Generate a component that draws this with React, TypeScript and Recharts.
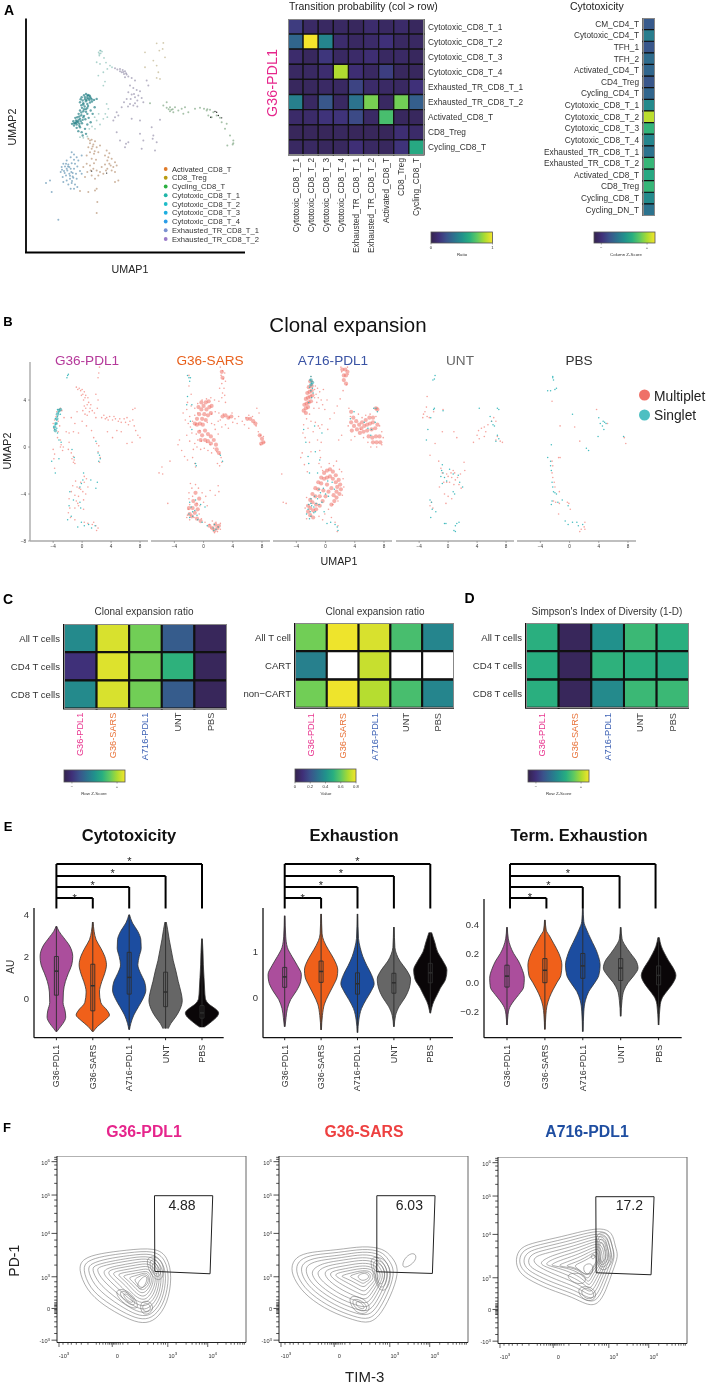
import React from 'react';
import { Area, Bar, BarChart, Cell, ComposedChart, ReferenceLine, Scatter, ScatterChart, XAxis, YAxis } from 'recharts';

const FONT = '"Liberation Sans", Arial, sans-serif';
type P = [number, number];

// ---------- colour scale ----------
const VIRIDIS = ['#34234d', '#3f2f78', '#3b528b', '#2c728e', '#21918c', '#28ae80', '#5ec962', '#addc30', '#f4e52c'];
function hex(c: string) { return [1, 3, 5].map((i) => parseInt(c.slice(i, i + 2), 16)); }
function viridis(t: number) {
  const p = Math.max(0, Math.min(0.9999, t)) * (VIRIDIS.length - 1);
  const i = Math.floor(p);
  const a = hex(VIRIDIS[i]); const b = hex(VIRIDIS[i + 1]);
  return `rgb(${a.map((v, k) => Math.round(v + (b[k] - v) * (p - i))).join(',')})`;
}

// ---------- panel A data ----------
const umapTeal: P[] = [[245,290],[252,284],[258,280],[264,283],[270,288],[262,292],[255,296],[248,300],[268,298],[275,296],[282,298],[290,295],[258,302],[250,308],[244,314],[262,310],[270,306],[240,305],[246,322],[254,318],[262,322],[240,330],[250,332],[258,334],[236,340],[244,344],[252,346],[262,340],[232,350],[240,355],[248,358],[228,360],[234,365],[226,368],[220,362],[230,372],[238,370],[246,368],[222,375],[230,382],[240,380],[256,356],[266,352],[235,392],[245,395],[255,385],[262,372],[272,365],[248,405],[258,400],[268,285],[276,303],[264,316],[272,330],[278,340],[284,320],[226,352],[216,370],[255,290],[262,286],[266,294],[232,362],[228,366],[236,358],[250,312],[258,326],[242,296],[260,298],[272,292],[252,326],[244,336],[238,348],[222,368],[242,362],[250,350],[238,376]];
const umapTealLight: P[] = [[300,150],[302,158],[296,155],[306,153],[298,165],[312,172],[290,185],[300,190],[318,186],[330,195],[336,200],[322,205],[310,215],[295,225],[315,243],[310,255],[320,310],[325,325],[316,340],[322,350],[310,355],[290,360],[300,372],[285,385],[296,340],[268,385],[276,378],[284,350],[240,410],[250,412],[262,408],[302,150],[298,160]];
const umapBlue: P[] = [[190,490],[200,480],[212,470],[222,462],[215,455],[230,470],[245,465],[185,500],[195,498],[205,492],[215,488],[225,490],[235,480],[182,515],[192,512],[202,510],[212,505],[222,505],[232,498],[188,530],[198,525],[208,520],[218,518],[228,520],[240,512],[190,545],[200,540],[210,535],[220,532],[230,535],[205,552],[215,548],[225,552],[212,565],[222,565],[232,560],[150,540],[138,548],[155,575],[245,520],[175,658],[208,500],[214,515],[218,528],[200,505],[194,518],[210,526],[204,498],[216,542],[222,478],[186,508],[198,490]];
const umapBrown: P[] = [[265,415],[275,418],[285,422],[270,428],[280,432],[265,440],[275,445],[290,440],[300,435],[270,455],[282,460],[295,455],[260,465],[275,475],[288,478],[320,450],[328,458],[315,465],[325,470],[335,475],[345,485],[350,495],[340,500],[328,490],[315,492],[305,500],[322,505],[335,510],[345,515],[260,490],[250,500],[270,495],[280,505],[290,510],[262,515],[275,525],[285,535],[295,525],[310,520],[255,530],[345,545],[355,540],[290,565],[285,570],[292,605],[290,638],[265,575],[240,572],[270,420],[278,438],[284,452],[322,480],[332,495],[318,510],[300,515],[272,510],[282,488]];
const umapPurple: P[] = [[345,203],[352,207],[360,205],[368,208],[375,212],[365,215],[372,220],[380,222],[385,228],[375,230],[395,232],[405,240],[390,255],[400,262],[410,268],[420,272],[385,275],[395,282],[405,290],[415,285],[425,292],[380,295],[372,305],[390,310],[400,315],[412,318],[430,305],[365,320],[350,335],[345,350],[355,345],[440,240],[445,255],[350,395],[360,420],[378,430],[385,425],[375,440],[420,400],[430,420],[455,380],[460,405],[458,415],[465,450],[470,425],[480,358],[425,445],[340,360],[395,355],[420,360],[370,214],[378,218],[360,212],[402,280],[392,295],[412,300],[384,318],[405,308]];
const umapGreen: P[] = [[490,315],[500,322],[510,320],[518,326],[510,332],[520,335],[525,320],[500,305],[535,330],[545,325],[550,340],[555,320],[565,335],[585,325],[600,322],[612,325],[620,330],[630,328],[640,335],[625,345],[635,350],[650,345],[660,352],[665,365],[675,385],[690,405],[700,420],[698,432],[682,435],[680,370],[450,308],[514,328],[506,326],[622,326],[700,428]];
const umapKhaki: P[] = [[470,128],[490,127],[488,145],[478,150],[495,170],[435,155],[470,195],[475,215],[470,232],[480,235],[460,180],[435,200]];
const umapBlack: P[] = [[645,333],[650,335],[655,345],[632,350],[665,352],[320,518],[275,512]];
const legendNames = ['Activated_CD8_T', 'CD8_Treg', 'Cycling_CD8_T', 'Cytotoxic_CD8_T_1', 'Cytotoxic_CD8_T_2', 'Cytotoxic_CD8_T_3', 'Cytotoxic_CD8_T_4', 'Exhausted_TR_CD8_T_1', 'Exhausted_TR_CD8_T_2'];
const legendColors = ['#e07b2a', '#b89b10', '#2bb040', '#1fb5a8', '#1fbcc8', '#1caee0', '#2a9de8', '#7a90d0', '#9a7ac8'];

const tpRows = ['Cytotoxic_CD8_T_1', 'Cytotoxic_CD8_T_2', 'Cytotoxic_CD8_T_3', 'Cytotoxic_CD8_T_4', 'Exhausted_TR_CD8_T_1', 'Exhausted_TR_CD8_T_2', 'Activated_CD8_T', 'CD8_Treg', 'Cycling_CD8_T'];
const tpValues = [
  [0.17, 0.07, 0.06, 0.06, 0.05, 0.09, 0.06, 0.08, 0.05],
  [0.33, 1, 0.45, 0.09, 0.06, 0.08, 0.13, 0.06, 0.06],
  [0.09, 0.05, 0.15, 0.06, 0.08, 0.11, 0.06, 0.07, 0.05],
  [0.06, 0.06, 0.1, 0.88, 0.11, 0.06, 0.18, 0.05, 0.05],
  [0.05, 0.05, 0.07, 0.06, 0.2, 0.08, 0.07, 0.06, 0.13],
  [0.43, 0.06, 0.27, 0.06, 0.38, 0.79, 0.06, 0.78, 0.3],
  [0.08, 0.08, 0.14, 0.14, 0.22, 0.07, 0.7, 0.05, 0.05],
  [0.04, 0.04, 0.04, 0.05, 0.04, 0.04, 0.04, 0.11, 0.08],
  [0.06, 0.06, 0.05, 0.05, 0.12, 0.06, 0.05, 0.14, 0.6],
];
const cytoRows = ['CM_CD4_T', 'Cytotoxic_CD4_T', 'TFH_1', 'TFH_2', 'Activated_CD4_T', 'CD4_Treg', 'Cycling_CD4_T', 'Cytotoxic_CD8_T_1', 'Cytotoxic_CD8_T_2', 'Cytotoxic_CD8_T_3', 'Cytotoxic_CD8_T_4', 'Exhausted_TR_CD8_T_1', 'Exhausted_TR_CD8_T_2', 'Activated_CD8_T', 'CD8_Treg', 'Cycling_CD8_T', 'Cycling_DN_T'];
const cytoValues = [[0.28], [0.42], [0.27], [0.35], [0.33], [0.27], [0.33], [0.47], [0.9], [0.65], [0.45], [0.38], [0.66], [0.6], [0.66], [0.47], [0.38]];

// ---------- panel B data ----------
const pdl1Multi: P[] = [[-0.8,5.1],[-0.4,5],[0,4.9],[0.3,4.7],[0.1,4.5],[-0.2,4.8],[0.5,4.4],[0.8,4.2],[0.2,4],[0.9,3.8],[1.2,3.6],[0.5,3.3],[1,3],[0.7,2.7],[1.4,3.1],[1.7,2.9],[0.3,3.5],[2.3,6.3],[2.4,6.8],[2.2,5.9],[1.9,4.5],[2.2,4],[2.1,3.3],[-1.5,2.5],[-0.7,3],[-1,2],[0,2.2],[0.6,1.8],[1.3,1.4],[1.6,0.8],[2,0.3],[2.3,0.1],[3,2.7],[3.4,2.5],[3.8,2.6],[4.2,2.3],[4.6,2.4],[5,2.2],[5.4,2.1],[5.8,2.4],[6.2,2.5],[6.6,2.2],[7,2.3],[7.2,1.8],[7.4,1.4],[7.7,1],[8,0.8],[6.9,0.4],[6.2,0.3],[5.4,1.3],[4.8,1.4],[3.5,1.3],[4.2,0.8],[7,3.2],[7.3,3.3],[-4,2],[-3.9,1.6],[-3.8,2.3],[-3.6,2.6],[-3.5,3],[-3.2,3.2],[-3,3.3],[-2.8,3.1],[-3.3,2.2],[-3.1,1.8],[-3.3,1.3],[-3.4,0.8],[-3,0.6],[-2.9,0.2],[-2.6,0],[-1.9,-0.2],[-1.5,-0.5],[-1.2,-0.8],[-1.1,-1.1],[-1,-1.4],[-3.8,-0.6],[-3.9,-1],[-3.8,-1.8],[-4,-0.2],[-1.8,0.4],[2.2,-0.4],[2.5,-0.9],[2.4,-1.3],[0.3,-2.5],[0.6,-2.7],[0.3,-3],[-0.2,-3],[-0.4,-3.5],[-0.9,-2.9],[-1.3,-3.3],[-1.5,-3.8],[-1,-4.1],[-0.5,-4.2],[-0.8,-4.6],[0.2,-4.5],[0.5,-4],[0.8,-3.4],[-1.8,-4.4],[-1.7,-5.2],[-1.9,-5.6],[-1,-5.2],[-0.5,-5],[0.2,-5.3],[-1.6,-6],[-1,-6.2],[0.3,-6.4],[0.8,-6.5],[1.4,-6.6],[1.9,-6.7],[2.2,-6.9],[2,-7.1],[1.6,-6.4],[-0.6,4.9],[-0.1,4.4],[0.4,4.2],[0.7,3.6],[1.1,3.3],[0.1,3.1],[0.4,2.8],[1.9,2.5],[2.7,2.5],[3.2,2.4],[3.6,2.3],[4.4,2.6],[5.2,2.4],[6,2.1],[6.4,1.9],[-2.5,2.5],[-2.2,1.3],[-1.8,1.2],[-1.2,1.3],[-0.5,1.2],[-3,0],[-2.7,-0.3],[-1.4,-1],[-1.2,-1.3],[-0.2,-3.6],[-0.7,-3.4],[-0.6,-4.8],[0.1,-3.8]];
const pdl1Single: P[] = [[-2,6.1],[-2.1,5.9],[-1.9,6.2],[-3.9,1.7],[-3.8,1.5],[-3.7,1.9],[-3.6,2],[-3.5,2.3],[-3.4,2.6],[-3.3,2.9],[-3.2,3],[-3,2.8],[-3.5,1.6],[-3.4,1.2],[-3.7,2.4],[-3.4,3.2],[-3.2,0.6],[-2.9,0.4],[-1.4,-0.2],[-1.1,-0.9],[2.2,-0.5],[2.4,-0.7],[2.5,-1],[2.3,-1.2],[1.9,0.5],[-4.2,-1.2],[-3.7,-2.2],[-3.2,-1],[0.1,-2.8],[-0.1,-3.1],[0.2,-2.2],[-0.3,-3.4],[1.2,-2.8],[1.9,-3.5],[2.1,-3],[-1.7,-3.8],[-1.2,-4.5],[-0.3,-4.7],[-0.2,-5.2],[-2,-6.2],[-1.5,-5.9],[-0.1,-6.4],[0.3,-6.7],[0.9,-6.6],[1.3,-6.9],[1.8,-6.7],[-0.6,-6.8],[-1.8,-5]];
const pdl1SingleBlob: P[] = [[-3.8,1.7],[-3.7,1.4],[-3.6,2],[-3.5,2.4],[-3.4,2.8],[-3.2,3.1],[-3,3.2]];

const sarsBlob: P[] = [[-1.2,2],[-0.9,2.4],[-0.6,2.8],[-0.3,3.2],[0,3.5],[0.3,3.8],[0.7,3.9],[-0.9,1.9],[-0.5,2],[-0.2,2.4],[0.1,2.8],[0.4,3.2],[0.8,3.4],[1.1,3.5],[-0.1,1.9],[0.3,2.3],[0.6,2.7],[1,2.9],[-0.7,3.4],[-0.3,3.8],[-0.6,1.3],[-0.2,1],[0.2,1.4],[0.6,1.1],[0.2,0.6],[0.6,0.5],[1,0.9],[1.4,0.6],[1.7,0.2],[1,0.3],[-0.4,0.6],[1.8,-0.2],[2.1,-0.5],[2.6,2.6],[3,2.7],[3.4,2.5],[3.8,2.6],[6,2.4],[6.4,2.4],[6.8,2.2],[7.1,2],[7.7,1],[8,0.7],[8.2,0.4],[7.9,0.3],[-1.9,-5.7],[-2,-5.2],[-1.6,-5.9],[-1.5,-5.2],[-1.2,-5.6],[-1.4,-4.6],[-1,-4.9],[-0.8,-5.3],[-1.1,-3.9],[-0.6,-4.4],[-0.9,-6.1],[-0.4,-6.3],[0.8,-6.7],[1.2,-6.9],[1.6,-6.6],[1.9,-6.9],[1.5,-7.1],[2.1,-6.7],[2.5,6.4],[2.6,5.9]];
const sarsMulti: P[] = [[-2,6.1],[2.3,6.8],[2.6,6.5],[2.4,6.1],[2.7,5.8],[2.5,5.4],[2.8,5],[2.6,4.6],[2.5,4.2],[3,3.8],[2.1,3.9],[1.5,4],[1,4.2],[0.4,4.1],[-0.2,4],[-0.8,3.7],[-1.2,3.3],[-1.7,3.5],[-2.3,3.2],[-2.8,2.9],[-1.9,2.6],[-1.5,2.2],[-1.1,1.9],[-1.2,2.7],[-0.8,2.9],[1.1,2.8],[1.6,3],[2.1,2.9],[2.7,2.8],[3.5,2.5],[3.9,2.9],[4.3,2.4],[4.8,2.6],[5.3,2.2],[5.8,2.5],[6.2,2.7],[6.7,2.6],[7.2,1.8],[7.5,1.3],[7.8,1],[8.2,0.9],[8.3,0.4],[7.8,0.2],[7.3,3.3],[7.6,2.9],[2,2.2],[2.5,1.7],[3,1.9],[3.4,1.6],[0.5,2.1],[1.1,2],[1.6,1.5],[2,1.1],[-0.5,1.4],[-1,1.1],[-0.8,0.6],[-0.3,0.5],[0.4,0.4],[0.9,0.2],[1.4,-0.1],[1.8,-0.4],[2.2,-0.6],[2.4,-0.9],[2.5,-1.3],[-1.2,0.3],[-1.4,-0.2],[-1.9,0.5],[-2.3,1],[-3.3,0.6],[-3.5,0.2],[-3,-0.3],[-2.6,-0.8],[-2.2,-1.1],[-1.5,-0.9],[-1.2,-1.4],[-1.1,-1.7],[-4.6,-1.2],[-5.7,-1.7],[-6.1,-2.2],[-5.6,-2.3],[-4.9,-4.8],[1.9,-1.4],[2.2,-1.6],[-1.8,-3.1],[-1.6,-3.5],[-1.1,-3.2],[-0.7,-3.5],[-0.2,-3.9],[0.3,-4.2],[0.9,-3.7],[2,-3.3],[2.1,-3.8],[1.6,-4.1],[-2,-3.9],[-2,-4.4],[-1.9,-4.9],[-2.1,-5.3],[-2.2,-5.8],[-1.9,-6.2],[-1.3,-6],[-1.5,-4.2],[-0.9,-4.8],[-0.5,-5],[0,-4.7],[-0.6,-5.7],[-0.3,-6.1],[0.2,-6.4],[0.8,-6.6],[1.2,-6.3],[1.7,-6.4],[2.3,-6.5],[2.3,-7],[1.9,-7.2],[1.5,-7.3],[1,-6.9],[0.5,-5],[-2.3,-6],[-1.6,1.2],[-1.8,1.7],[-2.1,2],[-2.5,2.3],[-0.9,0],[-0.4,-0.2],[0.1,-0.1],[0.6,-0.3],[1.1,-0.5],[1.5,1.9],[2.3,2.3],[4,2.1],[4.6,2],[5.6,1.9],[6.2,1.6],[2.9,4.4],[2.2,5],[3,5.6],[2.9,6.3],[-1.7,4.5],[-2,5.2],[-2.2,3.8]];
const sarsSingle: P[] = [[-2.2,6.1],[-2,5.9],[-1.8,5.9],[-1.9,5.6],[-2.2,4.3],[-2.3,3.6],[-1.6,3.6],[-1.8,2.2],[-1.6,1.5],[-1.1,-1.4],[-1,-1.6],[2.3,-0.7],[2.6,-1.2],[-1.9,-4.7],[-1.7,-5.1],[-1.5,-5.5],[-2,-5.7],[-1.9,-6],[-1.5,-5.9],[-1.2,-5.4],[-0.9,-5.8],[-1.1,-4.5],[-0.4,-4.9],[0.2,-5.1],[-0.8,-6.2],[-0.2,-6.4],[0.5,-6.7],[1.3,-6.9],[1.7,-7],[1.5,-6.6],[2,-6.8],[1.4,-7.1]];

const a716Blob: P[] = [[-2.1,5.6],[-1.9,5.2],[-2.3,5.1],[-1.9,4.8],[-2.2,4.7],[-2.5,4.6],[-1.8,4.4],[-2.1,4.3],[-2.4,4.2],[-2.7,4.1],[-2,3.9],[-2.3,3.8],[-2.6,3.7],[-2.9,3.6],[-2.4,3.4],[-2.7,3.3],[-3,3.1],[-2.7,2.9],[2.3,6.6],[2.7,6.6],[3,6.4],[2.5,6.1],[2.8,6.1],[2.5,5.7],[2.8,5.4],[3.5,3],[3.8,2.5],[3.5,2.1],[3.9,1.8],[3.6,1.4],[4.2,2.2],[4.6,1.9],[4.3,1.5],[4.9,1.6],[5.3,1.8],[5.7,1.9],[6.1,2],[6.5,2.1],[5,2.1],[5.5,2.3],[6,2.5],[6.5,2.5],[4.7,1.2],[5.2,1.3],[5.7,1.4],[6.3,1.5],[6.8,1.6],[7.1,1.9],[5.9,0.9],[6.4,0.8],[6.9,0.9],[7.4,0.9],[6.5,0.4],[7,0.4],[7.5,0.4],[7.1,3.2],[6.9,3.3],[-0.6,-2.6],[-0.2,-2.2],[0.2,-2],[0.6,-1.9],[1,-2.1],[1.4,-2.4],[1.8,-2.8],[2,-3.2],[2.1,-3.6],[1.9,-4],[1.5,-4.3],[1.2,-4.6],[0.8,-4.9],[-0.2,-2.7],[0.2,-2.6],[0.6,-2.5],[1,-2.7],[1.4,-3],[1.6,-3.4],[1.5,-3.8],[1.1,-4.1],[-1,-3],[-0.6,-3.1],[-1.4,-3.5],[-1,-3.6],[-1.8,-4],[-1.4,-4.2],[-2.1,-4.5],[-1.8,-4.7],[-2.4,-5],[-2.1,-5.2],[-2.4,-5.5],[-2.1,-5.8],[-1.7,-6],[-1.3,-5.3],[-0.8,-5],[-0.4,-4.6],[0,-4.2],[0.4,-3.8],[0.8,-3.5],[0.2,-3.2],[-0.3,-3.7],[-0.8,-4.2],[-1.3,-4.9],[-1.7,-5.4]];
const a716Multi: P[] = [[-2,6],[-1.8,5.6],[-1.4,5.2],[-1.1,5],[-0.8,4.7],[-0.3,4.9],[-1.5,4.2],[-1.2,3.8],[-0.9,3.3],[-0.4,3.6],[0.2,4],[-1.6,3.3],[-2.2,2.8],[-2.6,2.4],[-3,1.9],[-3.1,1.2],[-2.8,0.8],[-2.4,1.6],[-1.4,2.1],[-1,1.8],[-0.8,1.6],[-0.5,1.9],[0.3,1.5],[0.6,2.4],[1.2,2.9],[1.6,3.5],[2,4.1],[2.4,4.8],[2.9,5.3],[3.1,6.2],[2.1,6.8],[3,6.8],[2.2,6.4],[3.2,3.3],[3.4,2.6],[3.1,1.8],[2.2,1],[1.8,0.6],[-3.2,-0.5],[-3.4,-0.9],[-2.9,-1.5],[-2.5,-2.1],[-5.8,-4.7],[-5.4,-4.8],[-6,-2.3],[-0.8,-0.3],[-0.7,-0.9],[-0.9,-1.4],[-0.6,-1.7],[-0.4,-2],[0.5,-1.4],[1.1,-1.6],[1.9,-1.9],[2.4,-2.7],[2.5,-3.4],[2.3,-4.1],[1.7,-4.6],[1,-4.9],[0.4,-5.3],[-0.1,-5.7],[-2.6,-4.3],[-2.8,-5.2],[-2.6,-6.1],[-0.9,-5.9],[-0.4,-6.2],[0.8,-6],[1.3,-6.4],[1.7,-6.7],[1.6,-7.2],[4.5,2.8],[5,2.5],[5.5,2.7],[6.1,2.8],[6.9,2.6],[7.4,1.8],[7.7,1.3],[7.9,0.8],[7.7,0.2],[7,0],[6.2,0],[5.8,0.4],[5.2,0.8],[4.8,1.5],[4,0.9],[3.5,0.6],[-1.5,4.9],[-1.3,4.5],[-1,4.2],[-0.6,4],[-0.1,3.2],[-2,2.2],[-1.7,1.3],[-2.2,0.4],[-2,-0.4],[-1.1,0.6],[-0.6,0.4],[1.5,-1.2],[2.2,-2.1]];
const a716Single: P[] = [[-2,6],[-2.1,5.7],[-1.9,5.4],[-2.2,5.1],[-2,4.8],[-1.8,5],[-1.7,4.6],[-1.9,4.2],[-2.3,3.8],[-3,1.5],[-2.7,0.4],[-2.4,-0.8],[-2.3,-1.4],[-2.2,-2.2],[-1.5,1.8],[-0.5,1.2],[-1.4,-0.4],[-0.8,-1.1],[-1.1,-2.2],[0.3,-2.9],[0.9,-3],[1.2,-3.6],[-0.3,-3.5],[-0.9,-3.6],[-1.5,-4.2],[-2,-4.4],[-2.3,-4.9],[-1.9,-5],[-2.1,-5.5],[-1.6,-5.6],[-2.2,-6.1],[-1.3,-4.8],[-0.9,-4.9],[-0.5,-4.7],[0,-4],[0.4,-4.2],[-0.2,-5.5],[0.2,-6.5],[0.7,-6.4],[1.3,-6.6],[1.7,-7.1],[1.6,-6.8],[3.4,2.4],[3.9,3],[5.3,2.1],[5.8,1.6],[6.3,1.5],[6.6,3.3],[6.9,3.3],[7.1,3],[6.8,2.1],[6.2,1],[-2.4,-5.3],[-2.6,-5.7],[-2,-5.9],[-1.6,-5.1],[-1.4,-5.5],[-1.1,-4.4],[-0.7,-3.9],[-2,-4.8]];
const a716SingleBlob: P[] = [[-2,5.7],[-2,5.3],[-1.8,5.5]];

const untMulti: P[] = [[-2.9,4.3],[-3,3.4],[-3.4,2.8],[-3.5,2.5],[-3.2,3],[-2.9,2.6],[-2.6,2.5],[-2,3],[-0.7,3.2],[-0.8,1.3],[0.8,1.3],[1.2,0.8],[-1.8,0.3],[4,1],[4.2,1.4],[4.6,1.6],[5,1.7],[5.2,1.3],[5.5,1.9],[6,2.2],[6.3,2.5],[6.6,2.2],[6.8,0.9],[7.2,0.5],[7.5,0.4],[6.6,0.6],[5,0.9],[4.3,0.7],[3.5,0.4],[-2.5,-0.7],[-1.3,-1.2],[-1,-1.8],[-0.8,-2.2],[-0.2,-2.3],[0,-2.5],[0.4,-2.2],[0.7,-2],[0.9,-2.2],[0.5,-2.6],[1,-2.8],[1.3,-2.6],[1.7,-2.3],[2.2,-1.3],[2.3,-2],[-0.6,-3],[-0.2,-3],[0.2,-3],[0.8,-3.2],[1.5,-3.2],[1.8,-3.5],[-1.2,-3.4],[-0.5,-4],[0,-4.2],[0.5,-4.4],[-0.3,-4.8],[-2.3,-4.7],[-2.5,-5],[-2.1,-5.2]];
const untSingle: P[] = [[-1.8,6.1],[-1.9,5.8],[-2.1,5.7],[-2,3.2],[-1.9,3.3],[-2.4,2.5],[-2.8,1.5],[-3,0.6],[-0.7,3.1],[4.3,3.3],[6.8,3.3],[7,3.2],[6,2.2],[5.8,2.6],[6.2,1.9],[6.4,1.8],[6.8,1],[7,0.7],[6.6,0.5],[-0.8,-1.5],[-0.9,-2],[-0.7,-2.2],[-1,-2.5],[-0.5,-2.6],[-0.2,-2.9],[0.2,-1.9],[0.7,-2.3],[1.4,-2.4],[1.6,-3],[2,-3.4],[-0.8,-3.1],[0.7,-3.8],[0.9,-4],[-2.5,-4.5],[-2.3,-4.7],[-2.2,-5.3],[-2.4,-6],[-1.7,-5.5],[-0.5,-6.5],[-0.3,-6.5],[1.2,-6.5],[1.5,-6.4],[1,-6.7],[0.8,-7.1],[1,-7.2]];
const pbsMulti: P[] = [[-2.4,3.9],[3.7,3.2],[5.2,2],[-1.3,1.8],[0.7,1.7],[1.4,0.5],[7.5,0.8],[7.7,0.3],[-2.4,-1.2],[-2.3,-1.6],[-1.5,-0.9],[-1.3,-0.9],[-2.4,-2.2],[-2.3,-2.6],[-2.1,-3],[-2,-3.4],[-1.4,-3.8],[-2.2,-4.6],[-1.9,-4.7],[-1.4,-4.8],[-0.3,-4.7],[-0.1,-4.8],[-1.5,-5.7],[0.1,-5.3],[1.6,-7],[2,-6.8],[2.1,-6.4],[1.4,-7.2],[2.1,-7]];
const pbsSingle: P[] = [[-2.3,5.9],[-2.3,6],[-2.2,5.7],[-3,4.8],[-2.6,4.8],[-2,4.9],[-1.8,5],[0.4,2.8],[4,2.5],[4.2,2],[4.6,2.2],[4.8,2.1],[5,2],[4.5,1.8],[4.7,1.5],[3.9,0.9],[2.3,-0.1],[2.6,-0.3],[-2.5,0.2],[-3,-0.9],[-2.6,-1.2],[-2.6,-1.6],[-2.5,-2],[-2.4,-3],[-2.3,-3.4],[-2.2,-3.8],[-2,-3.9],[-1.8,-4],[-2.4,-4.6],[-2.5,-4.9],[-1.6,-4.7],[-1,-4.5],[-0.2,-5],[-0.6,-6.3],[-0.2,-6.6],[0.4,-6.4],[1,-6.4],[1.2,-6.7],[1.8,-6.6],[7.4,0.9]];
const umapTicksX = [-4, 0, 4, 8];
const umapTicksY = [-8, -4, 0, 4];

// ---------- panels C / D data ----------
const groups = ['G36-PDL1', 'G36-SARS', 'A716-PDL1', 'UNT', 'PBS'];
const groupColors = ['#e8368f', '#e8743b', '#3f63b5', '#444444', '#444444'];
const cellRows = ['All T cells', 'CD4 T cells', 'CD8 T cells'];
const cartRows = ['All T cell', 'CART', 'non\u2212CART'];
const ratioValues = [[0.47, 0.95, 0.78, 0.29, 0.04], [0.13, 0.96, 0.78, 0.64, 0.04], [0.47, 0.95, 0.78, 0.29, 0.04]];
const cartValues = [[0.78, 0.99, 0.95, 0.7, 0.45], [0.43, null, 0.92, null, null], [0.78, 0.99, 0.89, 0.7, 0.45]];
const simpsonValues = [[0.63, 0.04, 0.5, 0.67, 0.63], [0.62, 0.04, 0.64, 0.63, 0.6], [0.63, 0.04, 0.47, 0.67, 0.67]];

// ---------- panel E data: [score, half width] ----------
const violinColors = ['#ab4e9c', '#f0601a', '#1c4da0', '#666666', '#0a0608'];
const cytoViolin: P[][] = [
  [[3.45,1],[3.2,8],[2.9,22],[2.5,40],[2,49],[1.6,46],[1.2,36],[0.8,27],[0.3,21],[-0.2,20],[-0.6,26],[-0.9,28],[-1.2,20],[-1.45,8],[-1.6,1]],
  [[3.65,1],[3.2,4],[2.8,10],[2.4,24],[2,36],[1.6,41],[1.2,36],[0.8,27],[0.3,20],[-0.2,24],[-0.6,44],[-0.8,50],[-1.05,36],[-1.35,14],[-1.6,1]],
  [[4,1],[3.6,10],[3.2,26],[2.8,35],[2.4,36],[2,30],[1.6,26],[1.2,34],[0.8,46],[0.4,50],[0,42],[-0.4,28],[-0.8,14],[-1.2,5],[-1.5,1]],
  [[3.65,2],[3.3,6],[2.8,11],[2.3,17],[1.8,23],[1.3,31],[0.8,38],[0.3,46],[-0.1,50],[-0.5,44],[-0.9,30],[-1.2,16],[-1.45,8]],
  [[2.85,1],[2.2,3],[1.6,4],[1,6],[0.4,8],[0,10],[-0.3,22],[-0.5,40],[-0.7,50],[-0.9,44],[-1.1,30],[-1.3,14],[-1.38,6]],
];
const cytoBoxes = [[0.15, 1.3, 2.0, -1.6, 3.45], [-0.6, 0.6, 1.63, -1.6, 3.65], [0.2, 1.0, 2.2, -1.5, 4.0], [-0.4, 0.3, 1.25, -1.45, 3.65], [-0.95, -0.7, -0.35, -1.38, 2.85]];
const exhViolin: P[][] = [
  [[1.8,1],[1.35,3],[1.1,8],[0.9,22],[0.7,38],[0.5,50],[0.35,48],[0.15,36],[-0.05,18],[-0.25,8],[-0.45,4],[-0.65,1]],
  [[1.84,1],[1.4,3],[1.25,8],[1.05,22],[0.85,38],[0.6,50],[0.45,48],[0.25,36],[0.05,22],[-0.15,10],[-0.4,4],[-0.72,1]],
  [[1.84,1],[1.3,3],[1.1,8],[0.9,16],[0.7,28],[0.5,42],[0.3,50],[0.15,42],[-0.05,26],[-0.25,12],[-0.5,4],[-0.78,1]],
  [[1.55,1],[1.1,3],[0.95,8],[0.8,18],[0.6,38],[0.4,50],[0.2,46],[0,34],[-0.2,16],[-0.4,5],[-0.65,1]],
  [[1.43,4],[1.2,14],[1,22],[0.8,38],[0.6,50],[0.4,46],[0.2,30],[0.05,20],[-0.1,10],[-0.35,1]],
];
const exhBoxes = [[0.22, 0.45, 0.66, -0.65, 1.8], [0.33, 0.57, 0.8, -0.72, 1.84], [0.07, 0.3, 0.54, -0.78, 1.84], [0.09, 0.32, 0.53, -0.65, 1.55], [0.32, 0.54, 0.75, -0.35, 1.43]];
const termViolin: P[][] = [
  [[0.38,1],[0.3,4],[0.25,10],[0.2,20],[0.15,34],[0.1,44],[0.03,52],[-0.03,50],[-0.08,36],[-0.12,22],[-0.17,8],[-0.22,3],[-0.29,1]],
  [[0.43,1],[0.36,4],[0.32,14],[0.27,26],[0.2,42],[0.12,51],[0.05,48],[0,36],[-0.05,24],[-0.1,14],[-0.16,6],[-0.22,3],[-0.32,1]],
  [[0.51,1],[0.42,3],[0.36,12],[0.3,24],[0.2,44],[0.12,52],[0.05,48],[0,36],[-0.06,18],[-0.12,8],[-0.2,3],[-0.335,1]],
  [[0.38,1],[0.3,4],[0.26,12],[0.2,30],[0.15,46],[0.1,52],[0.05,40],[0,22],[-0.05,10],[-0.12,4],[-0.23,1]],
  [[0.31,2],[0.25,8],[0.2,18],[0.15,30],[0.1,44],[0.05,52],[0,44],[-0.05,28],[-0.1,12],[-0.15,5],[-0.29,1]],
];
const termBoxes = [[-0.03, 0.045, 0.12, -0.29, 0.38], [0, 0.085, 0.165, -0.32, 0.43], [0.03, 0.115, 0.2, -0.335, 0.51], [0.015, 0.1, 0.165, -0.23, 0.38], [-0.015, 0.05, 0.115, -0.29, 0.31]];

// ---------- panel F data: channel values ----------
const f1Contours: P[][] = [
  [[235,505],[250,475],[300,460],[380,450],[470,442],[505,470],[518,530],[505,610],[470,660],[430,672],[380,655],[310,615],[260,570]],
  [[248,505],[262,482],[310,468],[385,458],[465,450],[498,478],[510,530],[497,605],[465,650],[430,660],[385,645],[318,605],[270,565]],
  [[262,505],[275,490],[320,476],[390,466],[460,458],[490,485],[502,530],[490,600],[460,642],[430,650],[390,635],[328,595],[282,555]],
  [[275,505],[288,495],[330,484],[395,473],[455,466],[484,492],[495,530],[484,595],[456,632],[430,640],[392,625],[338,585],[295,548]],
  [[290,508],[300,500],[340,490],[400,480],[452,473],[478,498],[488,530],[478,590],[452,622],[430,630],[395,615],[348,575],[308,540]],
  [[305,510],[350,497],[405,488],[450,480],[473,503],[482,532],[472,585],[450,612],[428,620],[398,605],[358,568],[322,535]],
  [[320,512],[360,503],[410,495],[448,488],[468,508],[476,535],[466,578],[447,604],[427,610],[400,596],[368,562],[335,532]],
  [[335,517],[370,510],[415,502],[447,496],[463,513],[470,538],[460,572],[444,595],[427,600],[403,586],[378,556],[350,532]],
  [[352,522],[380,516],[420,510],[446,504],[458,520],[463,542],[454,566],[441,586],[426,590],[406,576],[386,552],[364,532]],
  [[368,527],[392,522],[424,516],[444,512],[454,526],[457,546],[449,562],[438,576],[424,580],[409,566],[393,548],[378,535]],
  [[385,532],[405,528],[428,520],[443,518],[450,532],[451,548],[444,558],[435,568],[423,570],[412,558],[400,545]],
  [[402,538],[418,530],[435,522],[446,528],[447,545],[440,555],[432,562],[422,562],[414,552]],
  [[412,552],[425,535],[438,526],[444,535],[438,552],[428,565],[418,566]],
  [[440,470],[475,468],[495,500],[490,540],[465,540],[445,505]],
  [[450,478],[472,478],[486,505],[482,530],[466,530],[452,505]],
  [[458,488],[470,488],[478,508],[475,522],[465,522],[458,505]],
  [[345,570],[375,565],[405,590],[420,625],[395,625],[360,600]],
  [[358,575],[378,572],[400,592],[410,615],[392,615],[368,595]],
  [[370,582],[382,580],[396,595],[402,608],[390,606],[376,594]],
  [[420,605],[450,600],[465,625],[445,645],[425,640]],
  [[428,612],[448,608],[456,626],[442,636],[430,632]],
];
const f2Contours: P[][] = [
  [[870,505],[885,470],[930,455],[1010,450],[1090,437],[1150,445],[1175,470],[1198,505],[1180,570],[1145,640],[1110,672],[1060,660],[990,635],[920,590],[885,545]],
  [[885,505],[898,478],[938,463],[1015,458],[1090,445],[1145,453],[1165,478],[1185,510],[1170,565],[1138,630],[1108,660],[1062,650],[996,625],[930,582],[897,542]],
  [[900,505],[912,485],[948,472],[1020,466],[1090,453],[1140,461],[1158,485],[1175,515],[1162,560],[1132,620],[1106,648],[1065,640],[1002,615],[940,574],[910,538]],
  [[915,507],[925,492],[958,480],[1025,473],[1090,461],[1135,470],[1152,492],[1165,520],[1154,556],[1127,610],[1104,636],[1068,628],[1008,605],[950,566],[923,535]],
  [[932,510],[968,488],[1030,480],[1090,470],[1130,478],[1146,498],[1157,522],[1147,552],[1122,600],[1102,624],[1070,616],[1014,595],[960,558],[938,532]],
  [[950,513],[980,496],[1035,488],[1090,478],[1126,486],[1140,503],[1150,525],[1140,550],[1118,590],[1100,612],[1072,604],[1020,584],[972,550],[955,530]],
  [[968,516],[992,504],[1040,496],[1090,487],[1122,494],[1134,508],[1143,527],[1134,548],[1114,580],[1098,600],[1074,592],[1028,572],[985,543]],
  [[985,520],[1005,511],[1045,504],[1090,495],[1118,502],[1128,513],[1136,528],[1128,546],[1110,570],[1096,588],[1076,580],[1036,560],[1000,538]],
  [[1002,524],[1018,517],[1050,511],[1090,503],[1114,508],[1122,517],[1128,530],[1122,544],[1106,560],[1094,576],[1077,568],[1045,550],[1015,534]],
  [[1020,527],[1055,518],[1090,510],[1110,514],[1116,522],[1120,532],[1114,542],[1102,551],[1092,562],[1078,556],[1052,541],[1030,532]],
  [[1045,528],[1065,522],[1090,514],[1106,518],[1112,528],[1108,540],[1098,544],[1090,552],[1078,545],[1060,535]],
  [[1070,527],[1090,518],[1102,522],[1107,530],[1100,538],[1088,542],[1078,538]],
  [[1205,500],[1212,475],[1235,457],[1250,465],[1245,485],[1220,503]],
  [[1105,470],[1150,470],[1175,510],[1165,570],[1135,575],[1120,520]],
  [[1115,480],[1145,480],[1165,512],[1157,560],[1135,565],[1125,520]],
  [[1125,490],[1142,490],[1156,515],[1150,550],[1135,555],[1130,520]],
  [[1040,585],[1085,590],[1115,620],[1095,645],[1060,635]],
  [[1052,595],[1082,598],[1105,622],[1092,636],[1064,626]],
  [[1065,603],[1080,605],[1095,622],[1088,628],[1070,620]],
];
const f3Contours: P[][] = [
  [[497,478],[510,440],[560,425],[640,408],[700,392],[755,382],[790,395],[797,440],[808,465],[790,510],[770,570],[745,615],[710,613],[670,590],[600,568],[530,535],[505,510]],
  [[507,478],[520,447],[568,433],[645,416],[703,400],[753,390],[782,402],[788,442],[798,466],[782,508],[762,564],[740,604],[712,602],[674,580],[606,558],[540,527],[515,505]],
  [[520,480],[532,454],[576,441],[650,424],[706,408],[750,398],[775,408],[781,445],[790,468],[775,507],[755,558],[736,594],[713,592],[678,570],[612,548],[552,520],[528,502]],
  [[534,482],[545,460],[585,449],[656,432],[708,416],[748,405],[770,415],[775,447],[783,470],[768,505],[750,550],[732,584],[714,582],[682,560],[620,538],[565,513],[542,500]],
  [[548,484],[558,467],[595,457],[662,440],[710,424],[746,413],[766,422],[771,450],[777,472],[762,504],[745,543],[728,574],[714,572],[686,550],[630,528],[578,506]],
  [[565,488],[605,465],[668,448],[712,432],[745,420],[762,430],[766,453],[771,474],[757,502],[740,536],[724,564],[714,562],[690,540],[640,518],[590,500]],
  [[583,491],[615,473],[674,456],[714,440],[744,428],[758,437],[762,456],[766,476],[752,500],[735,528],[722,554],[714,552],[694,530],[650,510],[603,497]],
  [[600,494],[628,481],[680,464],[716,448],[743,436],[754,444],[757,460],[760,478],[747,498],[731,520],[720,544],[712,542],[698,522],[662,505],[618,497]],
  [[620,497],[642,488],[686,472],[718,456],[742,444],[750,451],[752,464],[754,480],[742,496],[727,514],[718,534],[708,532],[696,516],[672,502]],
  [[645,497],[665,490],[692,480],[718,465],[740,452],[746,460],[746,470],[748,484],[738,494],[726,506],[716,524],[705,522],[692,510],[672,500]],
  [[670,496],[695,486],[718,474],[735,462],[741,470],[742,486],[732,492],[730,510],[722,522],[700,520],[690,508]],
  [[700,494],[722,488],[730,496],[730,515],[724,522],[704,520]],
  [[722,468],[733,458],[738,470],[730,478]],
  [[738,395],[775,395],[790,440],[795,470],[775,510],[745,510],[740,450]],
  [[742,405],[770,405],[782,442],[787,470],[770,500],[748,502],[744,450]],
  [[746,415],[765,415],[775,445],[780,470],[765,492],[750,495],[748,450]],
  [[750,425],[760,425],[768,448],[772,470],[760,485],[752,488],[752,450]],
  [[680,560],[725,555],[745,585],[725,605],[695,595]],
  [[692,565],[722,562],[738,585],[722,598],[700,590]],
  [[640,520],[700,515],[715,545],[680,555]],
];
const f1Gate: P[] = [[465,287],[640,287],[632,521],[466,514]];
const f2Gate: P[] = [[1130,287],[1305,287],[1297,520],[1130,515]];
const f3Gate: P[] = [[739,289],[914,289],[905,523],[740,517]];
const fTicksY = [172,178,185,195,208,225,250,285,300,318,340,365,400,420,440,465,495,530,545,560,575,590,600,608,612,616,620,625,628,632,636,640,650,665,680,700,720];
const fMajorY: Record<number, string> = { 185: '6', 285: '5', 400: '4', 530: '3', 625: '0', 720: '-3' };
const fTicksX = [178,190,205,215,230,245,265,290,300,310,318,325,330,335,338,342,346,350,356,362,370,385,420,445,462,475,485,492,498,505,530,560,578,590,600,608,615,620,625,655,680,695,705,715,722,730,735];
const fMajorX: Record<number, string> = { 178: '-3', 338: '0', 505: '3', 625: '4' };

// ---------- helpers ----------
const toPts = (a: P[]) => a.map(([x, y]) => ({ x, y }));
const dot = (fill: string, r: number, opacity: number) => (p: any) => <circle cx={p.cx} cy={p.cy} r={r} fill={fill} fillOpacity={opacity} />;
const noShape = () => <g />;
const box = (left: number, top: number): React.CSSProperties => ({ position: 'absolute', left, top, willChange: 'transform' });

function RotTick({ x, y, payload, labels, colors, size, gap, tickLen }: any) {
  const i = Math.floor(payload.value);
  return (
    <g>
      {tickLen ? <line x1={x} x2={x} y1={y} y2={y + tickLen} stroke="#222" strokeWidth={1} /> : null}
      <text transform={`rotate(-90 ${x} ${y + gap})`} x={x} y={y + gap} textAnchor="end" dominantBaseline="central" fontSize={size} fontFamily={FONT} fill={colors ? colors[i] : '#333'}>{labels[i]}</text>
    </g>
  );
}

function Heatmap({ x, y, w, h, rows, cols, values, side, labelW, rowFont, colH = 0, colFont = 9, colColors, colGap = 3, stroke = 2, frame = '#888' }: any) {
  const table = rows.map((r: string) => {
    const o: any = { row: r };
    values[0].forEach((_: number, j: number) => { o['c' + j] = 1; });
    return o;
  });
  const n = values[0].length;
  return (
    <div style={box(side === 'left' ? x - labelW : x, y)}>
      <BarChart layout="vertical" width={w + labelW} height={h + colH} data={table} margin={{ top: 0, right: 0, bottom: 0, left: 0 }} barCategoryGap={0} barGap={0}>
        <XAxis type="number" domain={[0, n]} ticks={values[0].map((_: number, j: number) => j + 0.5)} interval={0} hide={!colH} height={colH} axisLine={false} tickLine={false} tickSize={0} tickMargin={0}
          tick={(p: any) => <RotTick {...p} labels={cols} colors={colColors} size={colFont} gap={colGap} />} />
        <YAxis type="category" dataKey="row" orientation={side} width={labelW} interval={0} axisLine={false} tickLine={false} tickSize={0} tickMargin={4} tick={{ fontSize: rowFont, fill: '#333', fontFamily: FONT }} />
        {values[0].map((_: number, j: number) => (
          <Bar key={j} dataKey={'c' + j} stackId="s" isAnimationActive={false}>
            {rows.map((_r: string, i: number) => {
              const v = values[i][j];
              return <Cell key={i} fill={v == null ? '#ffffff' : viridis(v)} stroke="#111" strokeWidth={stroke} />;
            })}
          </Bar>
        ))}
      </BarChart>
      <div style={{ position: 'absolute', left: side === 'left' ? labelW : 0, top: 0, width: w, height: h, boxSizing: 'border-box', border: `1px solid ${frame}`, outline: 'none', pointerEvents: 'none' }} />
    </div>
  );
}

function SmallUmap({ left, width, showY, multi, single, blob, singleBlob }: any) {
  const axisW = showY ? 14 : 0;
  return (
    <div style={box(left - axisW, 362)}>
      <ScatterChart width={width + axisW} height={192} margin={{ top: 0, right: 0, bottom: 0, left: 0 }}>
        <XAxis type="number" dataKey="x" domain={[-7.2, 9.1]} ticks={umapTicksX} interval={0} height={13} axisLine={{ stroke: '#aaa', strokeWidth: 1.4 }} tickSize={2} tickMargin={2} tickLine={{ stroke: '#777', strokeWidth: 0.6 }} tick={{ fontSize: 4.6, fill: '#333', fontFamily: FONT }} tickFormatter={(v: number) => String(v).replace('-', '\u2212')} />
        <YAxis type="number" dataKey="y" domain={[-8, 7.24]} ticks={umapTicksY} interval={0} hide={!showY} width={axisW} axisLine={{ stroke: '#aaa', strokeWidth: 1.4 }} tickSize={2} tickMargin={2} tickLine={{ stroke: '#777', strokeWidth: 0.6 }} tick={{ fontSize: 4.6, fill: '#333', fontFamily: FONT }} tickFormatter={(v: number) => String(v).replace('-', '\u2212')} />
        {blob ? <Scatter data={toPts(blob)} isAnimationActive={false} shape={dot('#EF7168', 2.1, 0.55)} /> : null}
        <Scatter data={toPts(multi)} isAnimationActive={false} shape={dot('#EF7168', 0.8, 0.65)} />
        {singleBlob ? <Scatter data={toPts(singleBlob)} isAnimationActive={false} shape={dot('#30A5A8', 1.8, 0.6)} /> : null}
        <Scatter data={toPts(single)} isAnimationActive={false} shape={dot('#30B5B8', 0.75, 0.9)} />
      </ScatterChart>
    </div>
  );
}

function Violins({ axisX, right, cat0, step, zero, perUnit, axisTop, profiles, boxes, ticks, tickLabels, bracketX, bracketStart, scaleW }: any) {
  const TOP = 850; const BOTTOM = 1037.7; const AW = 34;
  const yVal = (px: number) => (zero - px) / perUnit;
  const xIdx = (px: number) => (px - cat0) / step;
  const hw = 0.055;
  const levels = [898, 887, 876, 864];
  const lineProps = { stroke: '#2e2e2e', strokeWidth: 0.9, ifOverflow: 'visible' as const };
  const bkt = { stroke: '#000', strokeWidth: 2, ifOverflow: 'visible' as const };
  return (
    <div style={box(axisX - AW, TOP)}>
      <ComposedChart layout="vertical" width={AW + right - axisX} height={BOTTOM - TOP + 60} margin={{ top: 0, right: 0, bottom: 0, left: 0 }}>
        <XAxis type="number" domain={[xIdx(axisX), xIdx(right)]} ticks={[0, 1, 2, 3, 4]} interval={0} allowDataOverflow height={60} axisLine={{ stroke: '#111', strokeWidth: 1.3 }} tickLine={false} tickSize={0} tickMargin={0}
          tick={(p: any) => <RotTick {...p} labels={groups} size={9} gap={7} tickLen={2.5} />} />
        <YAxis type="number" dataKey="y" reversed domain={[yVal(BOTTOM), yVal(TOP)]} allowDataOverflow ticks={ticks} interval={0} width={AW} axisLine={false} tickSize={0} tickMargin={5} tickLine={false} tick={{ fontSize: 9.5, fill: '#333', fontFamily: FONT }} tickFormatter={(v: number) => tickLabels[ticks.indexOf(v)]} />
        {profiles.map((prof: P[], i: number) => {
          const rows = [...prof].sort((a, b) => a[0] - b[0]).map(([y, w]) => ({ y, band: [i - w / scaleW, i + w / scaleW] }));
          return <Area key={i} data={rows} dataKey="band" type="monotone" isAnimationActive={false} fill={violinColors[i]} fillOpacity={1} stroke="#333" strokeWidth={0.8} dot={false} activeDot={false} />;
        })}
        {boxes.map((b: number[], i: number) => [
          <ReferenceLine key={`w${i}`} segment={[{ x: i, y: b[3] }, { x: i, y: b[4] }]} {...lineProps} />,
          <ReferenceLine key={`a${i}`} segment={[{ x: i - hw, y: b[0] }, { x: i + hw, y: b[0] }]} {...lineProps} />,
          <ReferenceLine key={`c${i}`} segment={[{ x: i - hw, y: b[2] }, { x: i + hw, y: b[2] }]} {...lineProps} />,
          <ReferenceLine key={`l${i}`} segment={[{ x: i - hw, y: b[0] }, { x: i - hw, y: b[2] }]} {...lineProps} />,
          <ReferenceLine key={`r${i}`} segment={[{ x: i + hw, y: b[0] }, { x: i + hw, y: b[2] }]} {...lineProps} />,
          <ReferenceLine key={`m${i}`} segment={[{ x: i - hw, y: b[1] }, { x: i + hw, y: b[1] }]} stroke="#2e2e2e" strokeWidth={1.5} ifOverflow="visible" />,
        ])}
        <ReferenceLine segment={[{ x: xIdx(axisX), y: yVal(BOTTOM) }, { x: xIdx(axisX), y: yVal(axisTop) }]} stroke="#111" strokeWidth={1.3} ifOverflow="visible" />
        <ReferenceLine segment={[{ x: bracketStart, y: yVal(864) }, { x: bracketStart, y: yVal(908.5) }]} {...bkt} />
        {bracketX.map((bx: number, i: number) => [
          <ReferenceLine key={`h${i}`} segment={[{ x: bracketStart, y: yVal(levels[i]) }, { x: bx, y: yVal(levels[i]) }]} {...bkt} />,
          <ReferenceLine key={`v${i}`} segment={[{ x: bx, y: yVal(levels[i]) }, { x: bx, y: yVal(908.5) }]} {...bkt} />,
        ])}
      </ComposedChart>
    </div>
  );
}

function Flow({ left, top, dx, dy, contours, gate }: any) {
  const AL = 24; const AB = 24; const W = 189; const H = 186.5;
  const dom = [172 + dx, 740 + dx]; const domY = [168 + dy, 727 + dy];
  return (
    <div style={box(left - AL, top)}>
      <ScatterChart width={AL + W + 2} height={H + AB} margin={{ top: 0, right: 2, bottom: 0, left: 0 }}>
        <XAxis type="number" dataKey="x" domain={dom} allowDataOverflow ticks={fTicksX.map((t) => t + dx)} interval={0} height={AB} axisLine={{ stroke: '#222', strokeWidth: 1 }} tickLine={false} tickSize={0} tickMargin={0}
          tick={(p: any) => {
            const major = fMajorX[p.payload.value - dx];
            return (
              <g>
                <line x1={p.x} x2={p.x} y1={p.y} y2={p.y + (major ? 4.5 : 2.2)} stroke="#222" strokeWidth={0.7} />
                {major ? <FlowLabel x={p.x + 5} y={p.y + 13} exp={major} anchor="middle" /> : null}
              </g>
            );
          }} />
        <YAxis type="number" dataKey="y" reversed domain={domY} allowDataOverflow ticks={fTicksY.map((t) => t + dy)} interval={0} width={AL} axisLine={{ stroke: '#222', strokeWidth: 1 }} tickLine={false} tickSize={0} tickMargin={0}
          tick={(p: any) => {
            const major = fMajorY[p.payload.value - dy];
            return (
              <g>
                <line x1={p.x} x2={p.x - (major ? 5.5 : 2.8)} y1={p.y} y2={p.y} stroke="#222" strokeWidth={0.8} />
                {major ? <FlowLabel x={p.x - 7} y={p.y + 1} exp={major} anchor="end" /> : null}
              </g>
            );
          }} />
        <ReferenceLine y={domY[0]} stroke="#666" strokeWidth={1} ifOverflow="visible" />
        <ReferenceLine x={dom[1]} stroke="#666" strokeWidth={1} ifOverflow="visible" />
        {contours.map((c: P[], i: number) => (
          <Scatter key={i} data={toPts(c)} isAnimationActive={false} shape={noShape} line={{ stroke: '#777', strokeWidth: 0.6 }} lineJointType="basisClosed" />
        ))}
        <Scatter data={toPts(gate)} isAnimationActive={false} shape={noShape} line={{ stroke: '#222', strokeWidth: 1 }} lineJointType="linearClosed" />
      </ScatterChart>
    </div>
  );
}

function FlowLabel({ x, y, exp, anchor }: any) {
  if (exp === '0') return <text x={x} y={y} fontSize={5.6} fontFamily={FONT} fill="#333" textAnchor={anchor} dominantBaseline="central">0</text>;
  const neg = exp === '-3';
  return (
    <text x={x} y={y} fontSize={5.6} fontFamily={FONT} fill="#333" textAnchor={anchor} dominantBaseline="central">
      {neg ? '-10' : '10'}<tspan dy={-2.5} fontSize={4.4}>{neg ? '3' : exp}</tspan>
    </text>
  );
}

function Txt({ x, y, s, size, color = '#222', weight, anchor = 'middle', rot }: any) {
  return <text x={x} y={y} fontSize={size} fill={color} fontWeight={weight} textAnchor={anchor} dominantBaseline="central" fontFamily={FONT} transform={rot ? `rotate(${rot} ${x} ${y})` : undefined}>{s}</text>;
}

function ColorBar({ id, x, y, w, h, max = 1, labels, title, titleX }: any) {
  const stops = VIRIDIS.map((_, i) => i / (VIRIDIS.length - 1));
  return (
    <g>
      <defs>
        <linearGradient id={id}>
          {stops.map((s, i) => <stop key={i} offset={s} stopColor={viridis(s * max)} />)}
        </linearGradient>
      </defs>
      <rect x={x} y={y} width={w} height={h} fill={`url(#${id})`} stroke="#555" strokeWidth={0.8} />
      {labels.map(([t, s]: [number, string], i: number) => (
        <g key={i}>
          <line x1={x + t * w} x2={x + t * w} y1={y + h} y2={y + h + 1.5} stroke="#333" strokeWidth={0.4} />
          <Txt x={x + t * w} y={y + h + 4.2} s={s} size={4.2} color="#333" />
        </g>
      ))}
      <Txt x={titleX} y={y + h + 11} s={title} size={4.4} color="#333" />
    </g>
  );
}

export default function App() {
  return (
    <div style={{ position: 'absolute', left: 0, top: 0, width: 708, height: 1383, background: '#fff', overflow: 'hidden', fontFamily: FONT }}>
      {/* A: UMAP */}
      <div style={box(26, 18.5)}>
        <ScatterChart width={219} height={234} margin={{ top: 0, right: 0, bottom: 0, left: 0 }}>
          <XAxis type="number" dataKey="x" domain={[78, 735]} hide />
          <YAxis type="number" dataKey="y" domain={[55, 758]} reversed hide />
          <Scatter data={toPts(umapTealLight)} isAnimationActive={false} shape={dot('#5aa79c', 0.9, 0.5)} />
          <Scatter data={toPts(umapBlue)} isAnimationActive={false} shape={dot('#4b83a8', 1, 0.6)} />
          <Scatter data={toPts(umapBrown)} isAnimationActive={false} shape={dot('#ad8460', 1, 0.6)} />
          <Scatter data={toPts(umapPurple)} isAnimationActive={false} shape={dot('#7d7698', 1, 0.55)} />
          <Scatter data={toPts(umapGreen)} isAnimationActive={false} shape={dot('#6a9a70', 1, 0.6)} />
          <Scatter data={toPts(umapKhaki)} isAnimationActive={false} shape={dot('#b5a67a', 0.9, 0.6)} />
          <Scatter data={toPts(umapTeal)} isAnimationActive={false} shape={dot('#17787e', 1.2, 0.65)} />
          <Scatter data={toPts(umapBlack)} isAnimationActive={false} shape={dot('#111', 0.7, 0.9)} />
        </ScatterChart>
      </div>

      <Heatmap x={288} y={19} w={136} h={136} rows={tpRows} cols={tpRows} values={tpValues} side="right" labelW={108} rowFont={8.3} colH={100} colFont={8.3} colGap={3} stroke={1.2} />
      <Heatmap x={643} y={17.5} w={12} h={197.5} rows={cytoRows} cols={['']} values={cytoValues} side="left" labelW={105} rowFont={8.3} stroke={1.2} />

      {/* B */}
      <SmallUmap left={30} width={118} showY multi={pdl1Multi} single={pdl1Single} singleBlob={pdl1SingleBlob} />
      <SmallUmap left={151} width={119} multi={sarsMulti} single={sarsSingle} blob={sarsBlob} />
      <SmallUmap left={273} width={119} multi={a716Multi} single={a716Single} blob={a716Blob} singleBlob={a716SingleBlob} />
      <SmallUmap left={395.5} width={118} multi={untMulti} single={untSingle} />
      <SmallUmap left={516.5} width={119} multi={pbsMulti} single={pbsSingle} />

      {/* C, D */}
      <Heatmap x={63.7} y={624.3} w={163} h={84.7} rows={cellRows} cols={groups} values={ratioValues} side="left" labelW={100} rowFont={9.6} colH={55} colFont={9.2} colColors={groupColors} colGap={4} stroke={2} />
      <Heatmap x={295} y={623} w={159} h={85} rows={cartRows} cols={groups} values={cartValues} side="left" labelW={100} rowFont={9.6} colH={55} colFont={9.2} colColors={groupColors} colGap={5} stroke={2} />
      <Heatmap x={525.7} y={623} w={163.3} h={85} rows={cellRows} cols={groups} values={simpsonValues} side="left" labelW={100} rowFont={9.6} colH={55} colFont={9.2} colColors={groupColors} colGap={5} stroke={2} />

      {/* E */}
      <Violins axisX={34.3} right={224} cat0={56.7} step={36.4} zero={998.3} perUnit={20.9} axisTop={908} profiles={cytoViolin} boxes={cytoBoxes} ticks={[0, 2, 4]} tickLabels={['0', '2', '4']} bracketStart={0} bracketX={[1, 2, 3, 4]} scaleW={109.2} />
      <Violins axisX={263} right={453} cat0={284.7} step={36.4} zero={997.3} perUnit={45.3} axisTop={908} profiles={exhViolin} boxes={exhBoxes} ticks={[0, 1]} tickLabels={['0', '1']} bracketStart={0} bracketX={[1, 2, 3, 4]} scaleW={109.2} />
      <Violins axisX={484.3} right={682} cat0={507.3} step={37.9} zero={982.7} perUnit={146} axisTop={899} profiles={termViolin} boxes={termBoxes} ticks={[-0.2, 0, 0.2, 0.4]} tickLabels={['\u22120.2', '0.0', '0.2', '0.4']} bracketStart={0.08} bracketX={[1.04, 2, 2.97, 3.92]} scaleW={113.7} />

      {/* F */}
      <Flow left={57.3} top={1156} dx={0} dy={0} contours={f1Contours} gate={f1Gate} />
      <Flow left={278.7} top={1156} dx={664} dy={0} contours={f2Contours} gate={f2Gate} />
      <Flow left={498.3} top={1156.7} dx={273} dy={2} contours={f3Contours} gate={f3Gate} />

      <svg width={708} height={1383} style={{ position: 'absolute', left: 0, top: 0, pointerEvents: 'none', willChange: 'transform' }}>
        {/* A */}
        <Txt x={9} y={10} s="A" size={14} weight="bold" color="#000" />
        <line x1={26} y1={18.5} x2={26} y2={253} stroke="#000" strokeWidth={1.8} />
        <line x1={25} y1={252.5} x2={245} y2={252.5} stroke="#000" strokeWidth={1.8} />
        <Txt x={12} y={127} s="UMAP2" size={10.7} rot={-90} />
        <Txt x={130} y={269} s="UMAP1" size={10.7} />
        {legendNames.map((n, i) => (
          <g key={n}>
            <circle cx={165.7} cy={169 + i * 8.75} r={1.9} fill={legendColors[i]} />
            <Txt x={172} y={169 + i * 8.75} s={n} size={7.6} anchor="start" color="#333" />
          </g>
        ))}
        <Txt x={272} y={83} s="G36-PDL1" size={14.4} color="#e6268c" rot={-90} />
        <Txt x={289} y={6} s="Transition probability (col > row)" size={10.5} anchor="start" />
        <Txt x={570} y={6} s="Cytotoxicity" size={10.5} anchor="start" />
        <ColorBar id="cb1" x={431} y={232} w={61.5} h={11} labels={[[0, '0'], [1, '1']]} title="Ratio" titleX={462} />
        <ColorBar id="cb2" x={594} y={232} w={61} h={11} labels={[[0.12, '\u2212'], [0.87, '+']]} title="Column Z-Score" titleX={626} />

        {/* B */}
        <Txt x={8} y={321} s="B" size={13} weight="bold" color="#000" />
        <Txt x={348} y={324} s="Clonal expansion" size={20.5} color="#111" />
        <Txt x={87} y={360} s="G36-PDL1" size={13.6} color="#b5399a" />
        <Txt x={210} y={360} s="G36-SARS" size={13.6} color="#e8601c" />
        <Txt x={333} y={360} s="A716-PDL1" size={13.6} color="#3a53a4" />
        <Txt x={460} y={360} s="UNT" size={13.6} color="#666" />
        <Txt x={579} y={360} s="PBS" size={13.6} color="#333" />
        <Txt x={7} y={451} s="UMAP2" size={10.7} rot={-90} />
        <Txt x={339} y={561} s="UMAP1" size={10.7} />
        <circle cx={644.5} cy={395} r={5.5} fill="#EF7168" />
        <circle cx={644.5} cy={415} r={5.5} fill="#4DBFC2" />
        <Txt x={654} y={396} s="Multiplet" size={13.8} anchor="start" />
        <Txt x={654} y={415} s="Singlet" size={13.8} anchor="start" />

        {/* C, D */}
        <Txt x={8} y={599} s="C" size={14} weight="bold" color="#000" />
        <Txt x={469.5} y={598} s="D" size={14} weight="bold" color="#000" />
        <Txt x={144} y={611} s="Clonal expansion ratio" size={10} color="#333" />
        <Txt x={375} y={611} s="Clonal expansion ratio" size={10} color="#333" />
        <Txt x={607} y={611} s="Simpson's Index of Diversity (1-D)" size={10} color="#333" />
        <ColorBar id="cb3" x={64} y={770} w={61} h={12} labels={[[0.13, '\u2212'], [0.87, '+']]} title="Row Z-Score" titleX={94} />
        <ColorBar id="cb4" x={295} y={769} w={61} h={13} labels={[[0, '0'], [0.25, '0.2'], [0.5, '0.4'], [0.75, '0.6'], [1, '0.8']]} title="Value" titleX={326} />
        <ColorBar id="cb5" x={528} y={770} w={61} h={12} labels={[[0.13, '\u2212'], [0.87, '+']]} title="Row Z-Score" titleX={558.7} />

        {/* E */}
        <Txt x={8} y={826} s="E" size={13} weight="bold" color="#000" />
        <Txt x={129} y={835} s="Cytotoxicity" size={16.5} weight="bold" color="#111" />
        <Txt x={354} y={835} s="Exhaustion" size={16.5} weight="bold" color="#111" />
        <Txt x={579} y={835} s="Term. Exhaustion" size={16.5} weight="bold" color="#111" />
        <Txt x={10.7} y={966.7} s="AU" size={10} rot={-90} color="#333" />
        {[[74.7, 895], [92.7, 882], [112.7, 870.7], [129.3, 858.7], [302.7, 895], [321, 882], [341, 870.7], [357.3, 858.7], [530, 894], [548.3, 882], [568, 870.7]].map(([x, y], i) => (
          <Txt key={i} x={x} y={y + 2.5} s="*" size={11} color="#222" />
        ))}

        {/* F */}
        <Txt x={7} y={1127} s="F" size={13} weight="bold" color="#000" />
        <Txt x={144} y={1131} s="G36-PDL1" size={15.8} weight="bold" color="#e6258c" />
        <Txt x={364} y={1131} s="G36-SARS" size={15.8} weight="bold" color="#ee4040" />
        <Txt x={587} y={1131} s="A716-PDL1" size={15.8} weight="bold" color="#1f4ea1" />
        <Txt x={182} y={1205} s="4.88" size={14} color="#222" />
        <Txt x={409.3} y={1205} s="6.03" size={14} color="#222" />
        <Txt x={629.3} y={1205} s="17.2" size={14} color="#222" />
        <Txt x={14} y={1260.7} s="PD-1" size={14} rot={-90} />
        <Txt x={364.7} y={1376} s="TIM-3" size={15} />
      </svg>
    </div>
  );
}
